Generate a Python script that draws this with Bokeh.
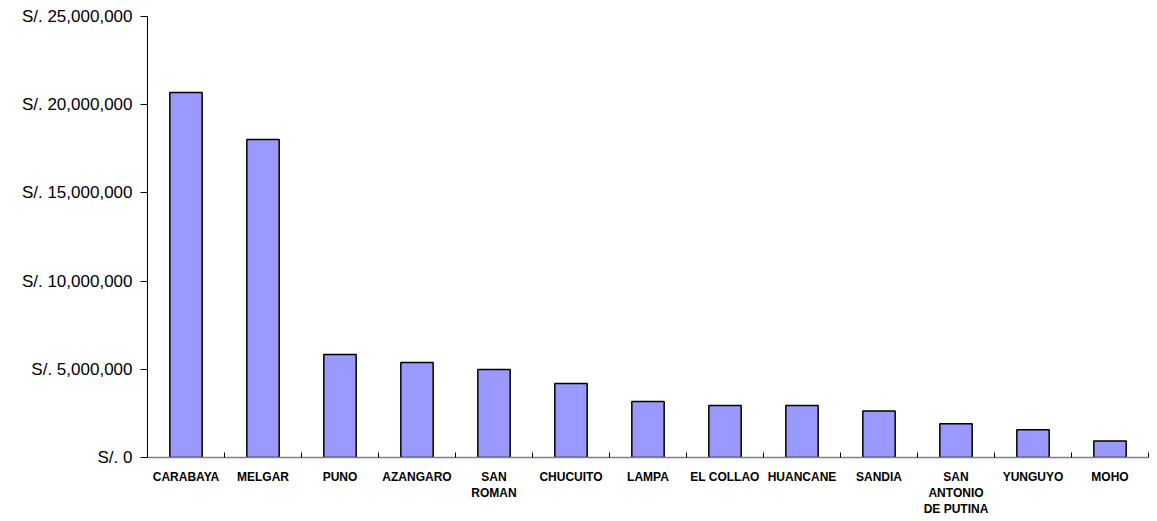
import numpy as np
from bokeh.plotting import figure
from bokeh.models import Range1d, FixedTicker, CustomJSTickFormatter
from bokeh.embed import file_html
from bokeh.resources import INLINE

categories = ["CARABAYA", "MELGAR", "PUNO", "AZANGARO", "SAN\nROMAN", "CHUCUITO",
              "LAMPA", "EL COLLAO", "HUANCANE", "SANDIA", "SAN\nANTONIO\nDE PUTINA",
              "YUNGUYO", "MOHO"]
values = [20690000, 18030000, 5840000, 5390000, 4990000, 4200000,
          3170000, 2950000, 2950000, 2640000, 1910000, 1570000, 930000]
y_ticks = [0, 5000000, 10000000, 15000000, 20000000, 25000000]

n = len(categories)
xs = np.arange(n) + 0.5

p = figure(width=1150, height=519, output_backend="svg", toolbar_location=None,
           x_range=Range1d(0, n), y_range=Range1d(0, 25000000),
           min_border_left=147, min_border_right=2, min_border_top=16, min_border_bottom=62)
p.outline_line_color = None
p.xgrid.visible = False
p.ygrid.visible = False
p.background_fill_color = "white"

p.vbar(x=xs, top=values, width=0.42, bottom=0, fill_color="#9999FF",
       line_color="black", line_width=1.5)

# y axis
p.yaxis.ticker = FixedTicker(ticks=y_ticks, minor_ticks=[])
p.yaxis.formatter = CustomJSTickFormatter(
    code="return 'S/. ' + Math.round(tick).toLocaleString('en-US');")
p.yaxis.axis_line_color = "black"
p.yaxis.major_tick_line_color = "black"
p.yaxis.major_tick_out = 7
p.yaxis.major_tick_in = 0
p.yaxis.major_label_text_font = "Liberation Sans"
p.yaxis.major_label_text_font_size = "17px"
p.yaxis.major_label_text_color = "black"
p.yaxis.major_label_standoff = 8

# x axis
p.xaxis.ticker = FixedTicker(ticks=list(xs), minor_ticks=list(range(n + 1)))
p.xaxis.major_label_overrides = {float(x): c for x, c in zip(xs, categories)}
p.xaxis.axis_line_color = "#808080"
p.xaxis.axis_line_width = 1.5
p.xaxis.major_tick_line_color = None
p.xaxis.minor_tick_line_color = "black"
p.xaxis.minor_tick_out = 0
p.xaxis.minor_tick_in = 5
p.xaxis.major_label_text_font = "Liberation Sans"
p.xaxis.major_label_text_font_size = "12px"
p.xaxis.major_label_text_font_style = "bold"
p.xaxis.major_label_text_color = "black"
p.xaxis.major_label_text_line_height = 1.15
p.xaxis.major_label_standoff = 6

open("out.html", "w").write(file_html(p, INLINE))
